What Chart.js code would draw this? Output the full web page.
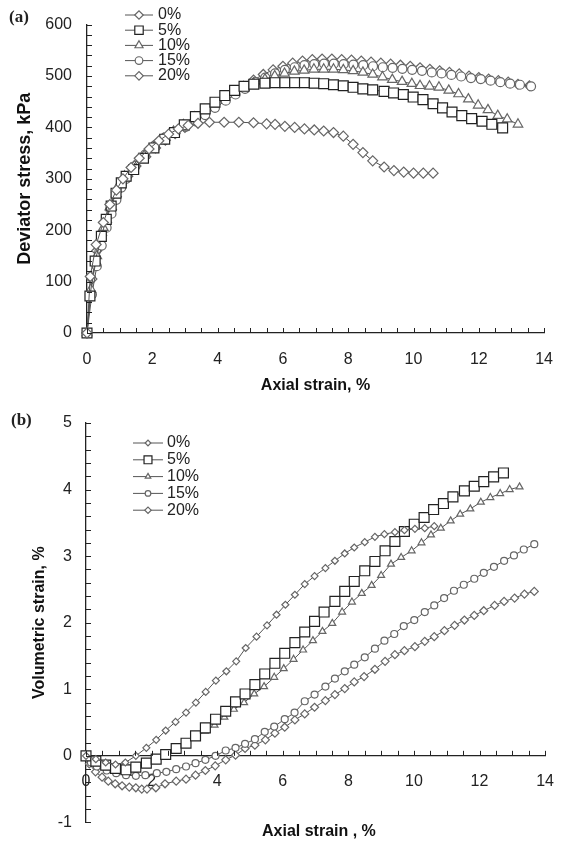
<!DOCTYPE html>
<html>
<head>
<meta charset="utf-8">
<script src="https://cdn.jsdelivr.net/npm/chart.js@4.4.0/dist/chart.umd.min.js"></script>
<style>
  body { margin: 0; background: #fff; width: 570px; height: 846px; position: relative; overflow: hidden; }
  canvas { position: absolute; left: 0; }
  .panel { position: absolute; font-family: "Liberation Serif", "DejaVu Serif", serif; font-weight: bold; font-size: 17px; color: #222; }
  .xtitle { position: absolute; font-family: "Liberation Sans", Arial, sans-serif; font-weight: bold; font-size: 16px; color: #111; }
</style>
</head>
<body>
<canvas id="chartA" width="570" height="395" style="top:0"></canvas>
<canvas id="chartB" width="570" height="451" style="top:395px"></canvas>
<div class="panel" style="left:9px;top:7px">(a)</div>
<div class="panel" style="left:11px;top:410px">(b)</div>
<div class="xtitle" style="left:262px;top:822px">Axial strain , %</div>

<script>
// legend labels (fines content)
const labels = ['0%', '5%', '10%', '15%', '20%']

// (a) axial strain % vs deviator stress kPa
const stress0 = [[0,0],[0.1,110],[0.28,172],[0.5,215],[0.7,250],[0.9,278],[1.1,300],[1.35,322],[1.6,340],[1.9,358],[2.2,374],[2.5,387],[2.8,397],[3.1,404],[3.4,408],[3.75,410],[4.2,410],[4.65,410],[5.1,409],[5.5,407],[5.76,406],[6.06,402],[6.36,400],[6.66,397],[6.96,395],[7.25,393],[7.55,390],[7.85,383],[8.15,367],[8.45,351],[8.75,335],[9.1,323],[9.4,316],[9.7,313],[10.0,311],[10.3,311],[10.6,311]]
const stress5 = [[0,0],[0.09,72],[0.25,140],[0.44,188],[0.59,221],[0.74,247],[0.89,272],[1.05,292],[1.2,305],[1.43,318],[1.73,340],[2.05,360],[2.38,377],[2.68,390],[2.98,405],[3.32,421],[3.62,436],[3.92,449],[4.22,462],[4.52,472],[4.81,480],[5.11,484],[5.45,486],[5.76,487],[6.06,487],[6.36,487],[6.66,487],[6.96,486],[7.25,485],[7.55,483],[7.85,481],[8.15,478],[8.45,475],[8.75,473],[9.1,470],[9.39,467],[9.69,464],[9.99,459],[10.29,454],[10.6,446],[10.89,438],[11.18,430],[11.48,423],[11.78,417],[12.1,412],[12.4,406],[12.73,399]]
const stress10 = [[0,0],[0.12,85],[0.3,150],[0.5,205],[0.7,245],[0.9,280],[1.15,305],[1.45,325],[1.75,345],[2.05,362],[2.35,378],[2.65,392],[2.95,405],[3.3,420],[3.6,433],[3.9,445],[4.2,458],[4.5,468],[4.8,478],[5.1,486],[5.45,494],[5.75,500],[6.05,505],[6.35,509],[6.65,511],[6.95,513],[7.25,513],[7.55,513],[7.85,512],[8.15,510],[8.45,507],[8.75,503],[9.05,498],[9.35,493],[9.65,489],[9.95,485],[10.2,481],[10.49,480],[10.78,478],[11.08,472],[11.38,465],[11.68,455],[11.98,443],[12.28,434],[12.58,423],[12.87,416],[13.2,406]]
const stress15 = [[0,0],[0.15,75],[0.3,130],[0.45,170],[0.6,205],[0.75,232],[0.9,259],[1.05,283],[1.2,300],[1.48,325],[1.78,347],[2.08,365],[2.38,380],[2.68,392],[3.02,401],[3.32,412],[3.62,424],[3.92,438],[4.25,452],[4.55,464],[4.84,475],[5.16,488],[5.46,497],[5.76,505],[6.06,512],[6.36,517],[6.66,521],[6.96,523],[7.26,524],[7.56,524],[7.86,523],[8.16,522],[8.46,521],[8.76,519],[9.06,517],[9.36,516],[9.66,514],[9.96,512],[10.26,510],[10.56,507],[10.86,505],[11.16,502],[11.46,499],[11.76,496],[12.06,494],[12.36,491],[12.66,488],[12.96,485],[13.26,483],[13.6,480]]
const stress20 = [[0,0],[0.15,105],[0.3,160],[0.45,190],[0.6,215],[0.75,240],[0.9,265],[1.05,288],[1.25,305],[1.5,325],[1.8,343],[2.1,360],[2.4,375],[2.7,388],[3.0,400],[3.3,413],[3.6,427],[3.9,441],[4.2,455],[4.5,468],[4.8,480],[5.1,492],[5.4,503],[5.7,512],[6.0,519],[6.3,525],[6.6,529],[6.9,532],[7.2,533],[7.5,533],[7.8,532],[8.1,531],[8.4,529],[8.7,527],[9.0,525],[9.3,523],[9.6,521],[9.9,519],[10.2,516],[10.5,513],[10.8,510],[11.1,507],[11.4,504],[11.7,500],[12.0,497],[12.3,494],[12.6,491],[12.9,488],[13.2,484],[13.55,481]]

// (b) axial strain % vs volumetric strain %
const vol0 = [[0,0],[0.3,-0.05],[0.6,-0.1],[0.9,-0.13],[1.2,-0.1],[1.52,0.0],[1.84,0.12],[2.14,0.24],[2.43,0.38],[2.73,0.51],[3.05,0.65],[3.35,0.8],[3.65,0.96],[3.96,1.13],[4.28,1.27],[4.58,1.42],[4.87,1.62],[5.2,1.79],[5.52,1.96],[5.81,2.12],[6.08,2.27],[6.37,2.42],[6.67,2.58],[6.97,2.7],[7.3,2.82],[7.59,2.93],[7.89,3.04],[8.18,3.13],[8.5,3.21],[8.81,3.29],[9.1,3.33],[9.42,3.36],[9.71,3.39],[10.03,3.41],[10.33,3.42],[10.62,3.45]]
const vol5 = [[0,0],[0.3,-0.08],[0.6,-0.14],[0.9,-0.19],[1.22,-0.21],[1.52,-0.17],[1.84,-0.11],[2.14,-0.05],[2.43,0.02],[2.75,0.11],[3.05,0.19],[3.34,0.3],[3.64,0.42],[3.95,0.55],[4.26,0.67],[4.56,0.81],[4.85,0.93],[5.15,1.07],[5.45,1.23],[5.76,1.39],[6.06,1.54],[6.37,1.7],[6.67,1.86],[6.97,2.02],[7.26,2.16],[7.59,2.32],[7.89,2.47],[8.18,2.62],[8.5,2.78],[8.81,2.92],[9.12,3.08],[9.42,3.22],[9.71,3.37],[10.01,3.48],[10.31,3.58],[10.6,3.7],[10.9,3.79],[11.19,3.89],[11.54,3.98],[11.84,4.05],[12.13,4.12],[12.43,4.19],[12.73,4.25]]
const vol10 = [[0,0],[0.3,-0.07],[0.6,-0.12],[0.9,-0.16],[1.2,-0.18],[1.5,-0.17],[1.8,-0.12],[2.1,-0.06],[2.4,0.01],[2.7,0.09],[3.0,0.18],[3.33,0.28],[3.63,0.37],[3.92,0.46],[4.22,0.58],[4.51,0.7],[4.82,0.8],[5.13,0.93],[5.43,1.04],[5.74,1.18],[6.03,1.31],[6.33,1.45],[6.62,1.59],[6.92,1.73],[7.21,1.87],[7.51,1.99],[7.81,2.16],[8.11,2.31],[8.41,2.44],[8.71,2.56],[9.0,2.71],[9.3,2.88],[9.61,2.98],[9.93,3.08],[10.23,3.2],[10.52,3.32],[10.82,3.42],[11.12,3.53],[11.41,3.63],[11.72,3.71],[12.04,3.81],[12.33,3.88],[12.63,3.94],[12.92,4.0],[13.22,4.04]]
const vol15 = [[0,0],[0.15,-0.1],[0.33,-0.16],[0.63,-0.22],[0.92,-0.26],[1.22,-0.29],[1.52,-0.3],[1.81,-0.29],[2.16,-0.26],[2.45,-0.24],[2.75,-0.2],[3.05,-0.16],[3.34,-0.11],[3.64,-0.06],[3.95,0.0],[4.26,0.08],[4.56,0.12],[4.85,0.18],[5.15,0.25],[5.45,0.36],[5.74,0.44],[6.06,0.55],[6.36,0.65],[6.67,0.82],[6.97,0.92],[7.3,1.04],[7.59,1.16],[7.89,1.27],[8.18,1.37],[8.5,1.48],[8.81,1.61],[9.1,1.73],[9.4,1.83],[9.69,1.95],[10.01,2.04],[10.33,2.16],[10.62,2.26],[10.92,2.37],[11.22,2.48],[11.52,2.57],[11.84,2.66],[12.13,2.75],[12.44,2.84],[12.75,2.93],[13.05,3.01],[13.35,3.1],[13.67,3.18]]
const vol20 = [[0,0],[0.1,-0.12],[0.29,-0.24],[0.49,-0.32],[0.68,-0.38],[0.89,-0.42],[1.1,-0.45],[1.32,-0.47],[1.52,-0.48],[1.7,-0.5],[1.86,-0.5],[2.13,-0.48],[2.41,-0.42],[2.75,-0.38],[3.05,-0.35],[3.34,-0.29],[3.64,-0.22],[3.94,-0.15],[4.26,-0.06],[4.56,0.01],[4.85,0.11],[5.15,0.16],[5.47,0.24],[5.76,0.34],[6.06,0.43],[6.37,0.54],[6.67,0.63],[6.97,0.73],[7.3,0.83],[7.59,0.92],[7.89,1.01],[8.18,1.11],[8.48,1.19],[8.81,1.3],[9.12,1.42],[9.42,1.52],[9.71,1.58],[10.03,1.64],[10.33,1.72],[10.62,1.79],[10.93,1.88],[11.24,1.96],[11.54,2.04],[11.84,2.11],[12.13,2.18],[12.46,2.26],[12.75,2.32],[13.07,2.37],[13.37,2.43],[13.67,2.47]]

const font = '"Liberation Sans", Arial, sans-serif'
Chart.defaults.font.family = font
Chart.defaults.color = '#222'

function series(label, pts, style, radius, color) {
    return {
        label,
        data: pts.map(p => ({ x: p[0], y: p[1] })),
        showLine: true,
        pointStyle: style,
        pointRadius: radius,
        pointBorderColor: color,
        pointBackgroundColor: '#fff',
        pointBorderWidth: 1.2,
        borderColor: '#555',
        borderWidth: 1,
        clip: false
    }
}

// short ticks pointing into the plot, like the original figure
const innerTicks = {
    id: 'innerTicks',
    afterDraw(chart, args, opts) {
        const { ctx, chartArea, scales: { x, y } } = chart
        const base = opts.xAt !== undefined ? y.getPixelForValue(opts.xAt) : chartArea.bottom
        ctx.save()
        ctx.strokeStyle = '#222'
        ctx.lineWidth = 1
        ctx.beginPath()
        x.ticks.forEach(t => {
            const px = Math.round(x.getPixelForValue(t.value)) + 0.5
            ctx.moveTo(px, base)
            ctx.lineTo(px, base - opts.len)
        })
        y.ticks.forEach(t => {
            const py = Math.round(y.getPixelForValue(t.value)) + 0.5
            ctx.moveTo(chartArea.left, py)
            ctx.lineTo(chartArea.left + opts.len, py)
        })
        ctx.stroke()
        ctx.restore()
    }
}

// legend: line with marker, label to the right
const lineLegend = {
    id: 'lineLegend',
    afterDraw(chart, args, o) {
        const ctx = chart.ctx
        ctx.save()
        ctx.font = `16px ${font}`
        ctx.textBaseline = 'middle'
        chart.data.datasets.forEach((ds, i) => {
            const yy = o.top + i * o.rowH
            ctx.strokeStyle = '#555'
            ctx.lineWidth = 1
            ctx.beginPath()
            ctx.moveTo(o.left, yy)
            ctx.lineTo(o.left + o.lineW, yy)
            ctx.stroke()
            ctx.fillStyle = '#fff'
            ctx.strokeStyle = ds.pointBorderColor
            ctx.lineWidth = 1.2
            Chart.helpers.drawPoint(ctx, { pointStyle: ds.pointStyle, radius: ds.pointRadius * o.scale, borderWidth: 1.2 }, o.left + o.lineW / 2, yy)
            ctx.fillStyle = '#222'
            ctx.fillText(ds.label, o.left + o.lineW + o.gap, yy)
        })
        ctx.restore()
    }
}

const isStep = (v, s) => Math.abs(v / s - Math.round(v / s)) < 1e-6

new Chart(document.getElementById('chartA'), {
    type: 'scatter',
    data: {
        datasets: [
            series(labels[0], stress0, 'rectRot', 5, '#666'),
            series(labels[1], stress5, 'rect', 7, '#222'),
            series(labels[2], stress10, 'triangle', 5.5, '#666'),
            series(labels[3], stress15, 'circle', 4.5, '#666'),
            series(labels[4], stress20, 'rectRot', 5, '#666')
        ]
    },
    options: {
        responsive: false,
        animation: false,
        layout: { padding: { top: 17, right: 14, bottom: 0, left: 0 } },
        plugins: {
            legend: { display: false },
            tooltip: { enabled: false },
            innerTicks: { len: 5 },
            lineLegend: { left: 125, top: 15, rowH: 15.2, lineW: 28, gap: 5, scale: 0.85 }
        },
        scales: {
            x: {
                type: 'linear', min: 0, max: 14,
                grid: { display: false, drawTicks: false },
                border: { color: '#222', width: 1.3 },
                ticks: {
                    stepSize: 0.5, autoSkip: false, maxRotation: 0, padding: 17,
                    font: { size: 16 }, color: '#222',
                    callback: v => isStep(v, 2) ? String(Math.round(v)) : ''
                },
                title: { display: true, text: 'Axial strain, %', font: { size: 16, weight: 'bold' }, color: '#111', padding: { top: 0, bottom: 0 } },
                afterFit: s => { s.height = 62 }
            },
            y: {
                min: 0, max: 600,
                grid: { display: false, drawTicks: false },
                border: { color: '#222', width: 1.3 },
                ticks: {
                    stepSize: 20, autoSkip: false, padding: 15,
                    font: { size: 16 }, color: '#222',
                    callback: v => isStep(v, 100) ? String(Math.round(v)) : ''
                },
                title: { display: true, text: 'Deviator stress, kPa', font: { size: 18, weight: 'bold' }, color: '#111', padding: { top: 14, bottom: 0 } },
                afterFit: s => { s.width = 87 }
            }
        }
    },
    plugins: [innerTicks, lineLegend]
})

new Chart(document.getElementById('chartB'), {
    type: 'scatter',
    data: {
        datasets: [
            series(labels[0], vol0, 'rectRot', 3.5, '#666'),
            series(labels[1], vol5, 'rect', 7, '#222'),
            series(labels[2], vol10, 'triangle', 4, '#666'),
            series(labels[3], vol15, 'circle', 3.5, '#666'),
            series(labels[4], vol20, 'rectRot', 4, '#666')
        ]
    },
    options: {
        responsive: false,
        animation: false,
        layout: { padding: { top: 28, right: 12, bottom: 0, left: 0 } },
        plugins: {
            legend: { display: false },
            tooltip: { enabled: false },
            innerTicks: { len: 5, xAt: 0 },
            lineLegend: { left: 133, top: 48, rowH: 16.8, lineW: 30, gap: 4, scale: 0.8 }
        },
        scales: {
            x: {
                type: 'linear', min: 0, max: 14,
                position: { y: 0 },
                grid: { display: false, drawTicks: false },
                border: { color: '#222', width: 1.3 },
                ticks: {
                    stepSize: 0.5, autoSkip: false, maxRotation: 0, padding: 16,
                    font: { size: 16 }, color: '#222',
                    callback: v => isStep(v, 2) ? String(Math.round(v)) : ''
                },
                afterFit: s => { s.height = 43 }
            },
            y: {
                min: -1, max: 5,
                grid: { display: false, drawTicks: false },
                border: { color: '#222', width: 1.3 },
                ticks: {
                    stepSize: 0.2, autoSkip: false, padding: 14,
                    font: { size: 16 }, color: '#222',
                    callback: v => isStep(v, 1) ? String(Math.round(v)) : ''
                },
                title: { display: true, text: 'Volumetric strain, %', font: { size: 16, weight: 'bold' }, color: '#111', padding: { top: 30, bottom: 0 } },
                afterFit: s => { s.width = 86 }
            }
        }
    },
    plugins: [innerTicks, lineLegend]
})
</script>
</body>
</html>
